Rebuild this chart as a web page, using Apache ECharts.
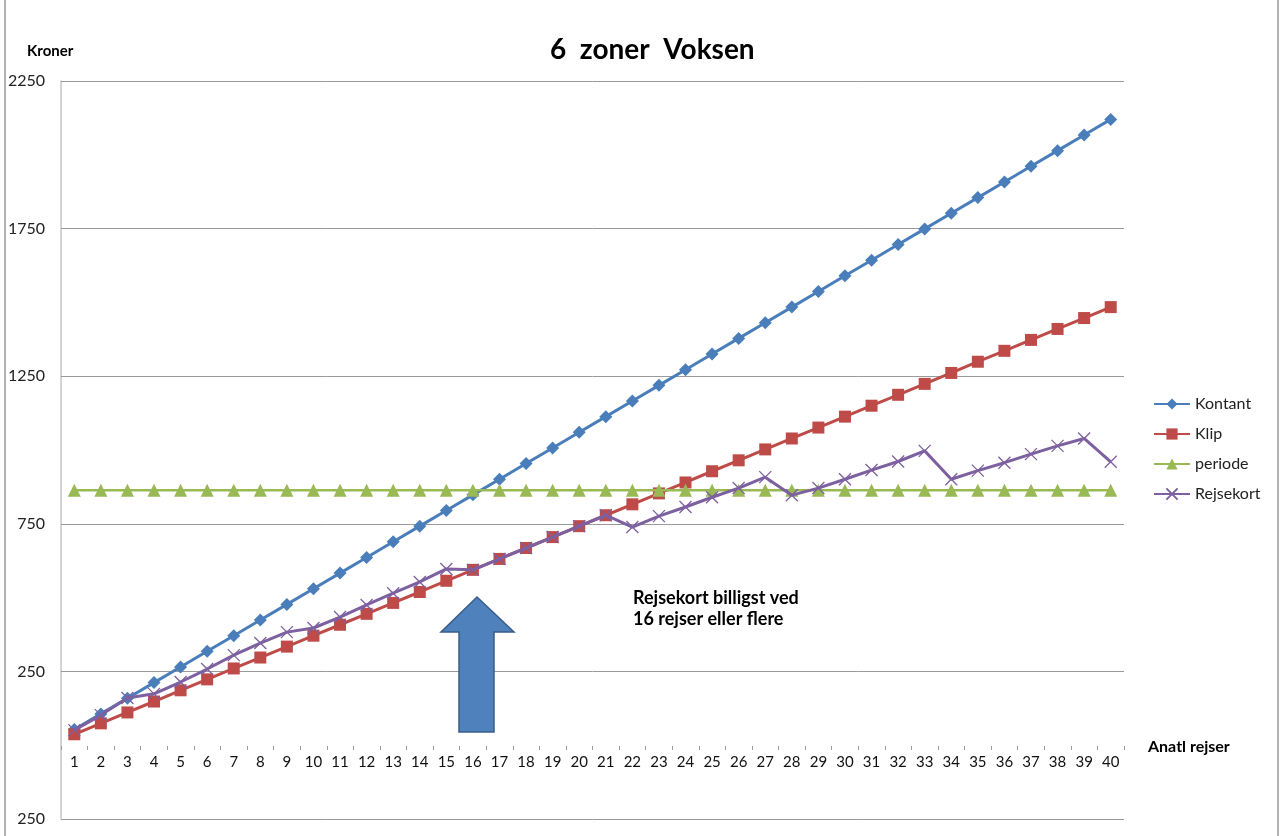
<!DOCTYPE html>
<html>
<head>
<meta charset="utf-8">
<script src="https://cdn.jsdelivr.net/npm/echarts@6/dist/echarts.min.js"></script>
<style>
  html, body { margin: 0; padding: 0; background: #fff; }
  #chart { width: 1282px; height: 836px; }
</style>
</head>
<body>
<div id="chart"></div>
<script>
// antal rejser 1..40
var trips = ['1', '2', '3', '4', '5', '6', '7', '8', '9', '10', '11', '12', '13', '14', '15', '16', '17', '18', '19', '20',
    '21', '22', '23', '24', '25', '26', '27', '28', '29', '30', '31', '32', '33', '34', '35', '36', '37', '38', '39', '40'];

var kontant = [53, 106, 159, 212, 265, 318, 371, 424, 477, 530, 583, 636, 689, 742, 795, 848, 901, 954, 1007, 1060,
    1113, 1166, 1219, 1272, 1325, 1378, 1431, 1484, 1537, 1590, 1643, 1696, 1749, 1802, 1855, 1908, 1961, 2014, 2067, 2120];

var klip = [37, 74, 111, 148, 186, 223, 260, 297, 334, 371, 408, 445, 482, 519, 557, 594, 631, 668, 705, 742,
    779, 816, 853, 890, 928, 965, 1002, 1039, 1076, 1113, 1150, 1187, 1224, 1261, 1299, 1336, 1373, 1410, 1447, 1484];

var periode = [864, 864, 864, 864, 864, 864, 864, 864, 864, 864, 864, 864, 864, 864, 864, 864, 864, 864, 864, 864,
    864, 864, 864, 864, 864, 864, 864, 864, 864, 864, 864, 864, 864, 864, 864, 864, 864, 864, 864, 864];

var rejsekort = [51, 102, 160, 174, 214, 258, 305, 346, 383, 397, 434, 475, 515, 553, 597, 594, 631, 668, 705, 742,
    779, 739, 776, 807, 840, 871, 908, 847, 871, 901, 932, 961, 997, 901, 930, 957, 986, 1014, 1039, 960];

// y-akse: linjer og tekster som i billedet
var yTickValues = [-250, 250, 750, 1250, 1750, 2250];
var yTickLabels = ['250', '250', '750', '1250', '1750', '2250'];

var FONT = 'Lato, "Open Sans", sans-serif';
var crossPath = 'path://M0,0L10,10M10,0L0,10';

var chart = echarts.init(document.getElementById('chart'));

var option = {
    animation: false,
    backgroundColor: '#fff',
    title: {
        text: '6  zoner  Voksen',
        left: 545,
        top: 31,
        textStyle: { fontFamily: FONT, fontSize: 28, fontWeight: 'bold', color: '#000' }
    },
    legend: {
        orient: 'vertical',
        left: 1148,
        top: 391,
        itemWidth: 36,
        itemHeight: 14,
        itemGap: 14,
        textStyle: { fontFamily: FONT, fontSize: 16, color: '#222' },
        data: ['Kontant', 'Klip', 'periode', 'Rejsekort']
    },
    grid: {
        left: 61,
        right: 158,
        top: 81,
        bottom: 17,
        containLabel: false
    },
    xAxis: {
        type: 'category',
        data: trips,
        boundaryGap: true,
        position: 'bottom',
        offset: 0,
        axisLine: { show: false, onZero: false },
        axisTick: { show: true, length: 4, lineStyle: { color: '#999' } },
        axisLabel: { margin: 9, fontFamily: FONT, fontSize: 15, color: '#111', interval: 0 },
        splitLine: { show: false }
    },
    yAxis: {
        type: 'value',
        min: -250,
        max: 2250,
        interval: 250,
        axisLine: { show: true, lineStyle: { color: '#c4c4c4', width: 1.5 } },
        axisTick: { show: false },
        splitLine: { show: false },
        axisLabel: {
            margin: 16,
            fontFamily: FONT,
            fontSize: 16,
            color: '#222',
            formatter: function (v) {
                var i = yTickValues.indexOf(v);
                return i < 0 ? '' : yTickLabels[i];
            }
        }
    },
    series: [
        {
            name: 'Kontant',
            type: 'line',
            data: kontant,
            symbol: 'diamond',
            symbolSize: 13,
            showAllSymbol: true,
            color: '#4a7ebb',
            lineStyle: { width: 3, color: '#4a7ebb' },
            z: 3,
            // gitterlinjer hver 500 kr
            markLine: {
                silent: true,
                symbol: ['none', 'none'],
                label: { show: false },
                lineStyle: { color: '#9a9a9a', width: 1, type: 'solid' },
                data: yTickValues.map(function (v) { return { yAxis: v }; }),
                z: 1
            }
        },
        {
            name: 'Klip',
            type: 'line',
            data: klip,
            symbol: 'rect',
            symbolSize: 12,
            showAllSymbol: true,
            color: '#be4b48',
            lineStyle: { width: 3, color: '#be4b48' },
            z: 4
        },
        {
            name: 'periode',
            type: 'line',
            data: periode,
            symbol: 'triangle',
            symbolSize: 13,
            showAllSymbol: true,
            color: '#98b954',
            lineStyle: { width: 2.5, color: '#98b954' },
            z: 5
        },
        {
            name: 'Rejsekort',
            type: 'line',
            data: rejsekort,
            symbol: crossPath,
            symbolSize: 12,
            showAllSymbol: true,
            color: '#7d60a0',
            itemStyle: { color: '#7d60a0', borderColor: '#7d60a0', borderWidth: 1.3 },
            lineStyle: { width: 3, color: '#7d60a0' },
            z: 6
        }
    ],
    graphic: [
        {
            type: 'rect',
            shape: { x: 5, y: -3, width: 1273, height: 842 },
            style: { fill: 'none', stroke: '#9a9a9a', lineWidth: 1.5 },
            silent: true
        },
        {
            type: 'text',
            left: 27,
            top: 44,
            style: { text: 'Kroner', fontFamily: FONT, fontSize: 15, fontWeight: 'bold', fill: '#000' }
        },
        {
            type: 'text',
            left: 1148,
            top: 739,
            style: { text: 'Anatl rejser', fontFamily: FONT, fontSize: 16, fontWeight: 'bold', fill: '#000' }
        },
        {
            type: 'text',
            left: 633,
            top: 588,
            style: {
                text: 'Rejsekort billigst ved\n16 rejser eller flere',
                fontFamily: FONT,
                fontSize: 18,
                lineHeight: 21,
                fontWeight: 'bold',
                fill: '#000'
            }
        },
        {
            type: 'polygon',
            shape: {
                points: [[477, 597], [514, 632], [494, 632], [494, 732], [459, 732], [459, 632], [441, 632]]
            },
            style: { fill: '#4f81bd', stroke: '#385d8a', lineWidth: 1.5 },
            z: 10
        }
    ]
};

chart.setOption(option);

// kategori-aksen skal ligge ved 0 kr
var zeroY = chart.convertToPixel({ yAxisIndex: 0 }, 0);
var bottomY = chart.convertToPixel({ yAxisIndex: 0 }, -250);
chart.setOption({ xAxis: { offset: -(bottomY - zeroY) } });
</script>
</body>
</html>
